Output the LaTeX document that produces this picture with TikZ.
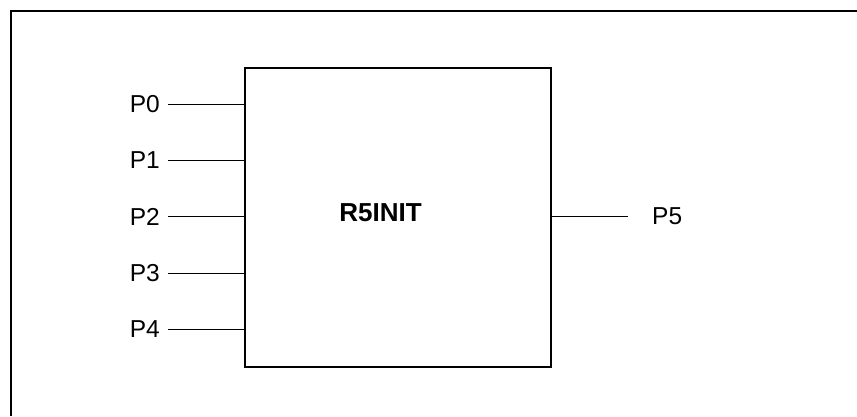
\documentclass[tikz,border=0pt]{standalone}
\usepackage{fontspec}
\setmainfont{Liberation Sans}
\begin{document}
\begin{tikzpicture}[x=1pt,y=-1pt,
  pinlabel/.style={inner sep=0pt, font=\fontsize{24.5}{24.5}\selectfont},
  pinline/.style={line width=0.9pt},
  blockbox/.style={draw, line width=1.1pt, minimum width=306pt, minimum height=299pt, inner sep=0pt},
  frameline/.style={line width=1.4pt}]
\useasboundingbox (0,0) rectangle (857,416);
% outer frame (top and left edges visible)
\coordinate (fl) at (11,416);
\coordinate (ftl) at (11,11);
\coordinate (fr) at (857,11);
\draw[frameline] (fl) -- (ftl) -- (fr);
% block
\node[blockbox] (box) at (398,217.5) {};
\node[inner sep=0pt, font=\fontsize{26}{26}\selectfont\bfseries] (title) at (380.5,212.5) {R5INIT};
% inputs
\node[pinlabel, anchor=east] (p0) at (160,104) {P0};
\node[pinlabel, anchor=east] (p1) at (160,160) {P1};
\node[pinlabel, anchor=east] (p2) at (160,216.5) {P2};
\node[pinlabel, anchor=east] (p3) at (160,273) {P3};
\node[pinlabel, anchor=east] (p4) at (160,329.5) {P4};
\foreach \p in {p0,p1,p2,p3,p4}
  \draw[pinline] ([xshift=8pt]\p.east) -- (\p.east -| box.west);
% output
\node[pinlabel, anchor=west] (p5) at (652,216.5) {P5};
\draw[pinline] (box.east |- p5.west) -- ([xshift=-24pt]p5.west);
\end{tikzpicture}
\end{document}
